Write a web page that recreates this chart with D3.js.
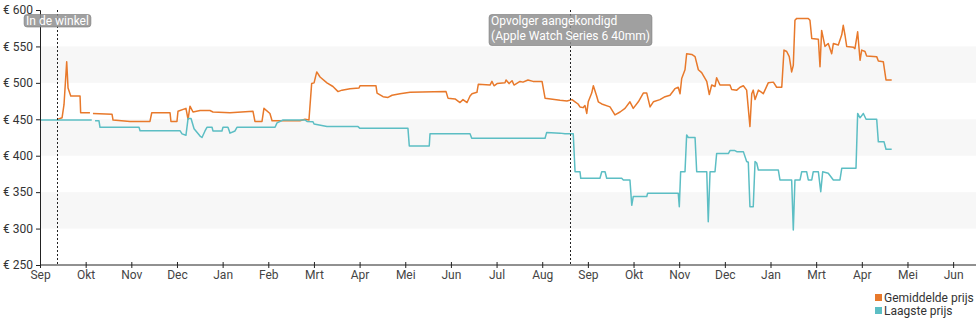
<!DOCTYPE html>
<html>
<head>
<meta charset="utf-8">
<script src="https://cdn.jsdelivr.net/npm/d3@7"></script>
<style>
  html, body { margin: 0; padding: 0; background: #fff; }
  svg { display: block; font-family: Roboto, "Noto Sans", "DejaVu Sans", sans-serif; }
</style>
</head>
<body>
<svg id="chart" width="980" height="325"></svg>
<script>
// Month tick labels, one per average month (365.25 / 12 days) from the start date
const monthLabels = ["Sep","Okt","Nov","Dec","Jan","Feb","Mrt","Apr","Mei","Jun","Jul","Aug",
                     "Sep","Okt","Nov","Dec","Jan","Mrt","Apr","Mei","Jun"];

// Price axis ticks (euro)
const priceTicks = [250, 300, 350, 400, 450, 500, 550, 600];

// Series names and colours
const seriesNames = ["Gemiddelde prijs", "Laagste prijs"];
const seriesColors = ["#e8792b", "#5cbec4"];

// Average price: [days since start, euro]; null marks a gap in the record
const avgPrice = [
  [12,450],[14.7,452],[16,470],[17.8,529],[18.7,493],[20.5,482],[26.7,482],[27.1,459],[33.3,459],
  [34.3,null],
  [35.3,458],[48,457],[48.7,449],[60,447],[73.3,447],[74.5,459],[86.7,459],[87.3,447],[91.3,447],
  [92,461],[97.3,465],[98.7,450],[100,468],[102,460],[106.7,462],[113.3,462],[115.3,460],[126.7,459],
  [142,461],[143.3,447],[148,447],[149.3,465],[153.3,458],[154.7,448],[173.3,448],[176.7,450],[179.3,449],
  [181.1,499],[182.7,500],[184.5,515],[186.7,508],[191.3,500],[195.3,495],[198.7,488],[201.3,490],
  [206.7,492],[212.7,493],[213.3,496],[224,496],[224.7,486],[228.7,481],[232,480],[234.7,483],[240,485],
  [246.7,487],[270.7,488],[272,479],[276.7,478],[280,473],[282,477],[284.7,473],[286.7,482],[288,485],
  [291.3,487],[292.2,498],[300,497],[301.3,502],[302.7,496],[304.7,499],[310,500],[310.7,504],[312.7,499],
  [314.7,503],[316,497],[320,502],[322,501],[325.3,504],[328.7,502],[334.7,502],[336.7,479],[346.7,476],
  [351.3,475],[354.7,477],[356.7,474],[358.7,471],[360,467],[362,466],[363.3,469],[364.5,458],[365.5,474],
  [367.8,486],[368.9,496],[371.1,482],[372.2,474],[374.5,471],[380,467],[383.3,456],[386.7,460],[390,465],
  [393.3,474],[395.5,465],[398.9,474],[402.2,486],[404.5,486],[406.7,467],[408.9,474],[413.3,477],
  [416.7,481],[420,483],[423.3,492],[425.5,494],[426.7,485],[427.8,506],[430,518],[431.1,540],[434.5,539],
  [436.7,536],[438.9,518],[441.1,514],[444.5,502],[446.2,484],[447.8,497],[450,495],[451.1,507],[453.3,497],
  [460,497],[461.1,491],[464.5,490],[466.7,494],[468.9,496],[471.1,490],[473.3,440],[474.5,485],[475.5,490],
  [476.7,477],[478.9,490],[481.1,487],[482.2,485],[483.3,490],[485.5,500],[488.9,501],[491.1,494],
  [494.5,494],[496,545],[497.8,543],[499.5,536],[501.1,515],[502.2,524],[503.3,586],[504.5,588.5],
  [512.2,588.5],[513.3,586],[514.5,561],[518.9,560],[520,522],[521.1,572],[523.3,550],[525.5,554],
  [527.8,540],[528.9,554],[532.2,552],[534.5,566],[535.5,579],[536.7,565],[537.8,550],[542.2,549],
  [543.3,547],[545.1,570],[546.7,531],[547.8,545],[550,543],[551.1,537],[557.8,536],[558.9,530],
  [562.2,529],[564,504],[567.8,504]
];

// Lowest price: [days since start, euro]; null marks a gap in the record
const lowPrice = [
  [0,449],[34.5,449],
  [35.5,null],
  [36.7,448],[39.3,448],[40,439],[66,439],[66.7,434.4],[93.3,434.4],[94.7,430],[97.3,428],[98.7,451],
  [100.7,451],[102.7,437],[106.7,427],[108,425],[110,434],[111.3,439],[114.7,439],[115.3,434],[121.3,434],
  [122,439],[125.3,439],[126.7,431],[130,434],[131.3,439],[156.7,439],[158,445],[162,449],[176.7,449],
  [178,447],[182,446.7],[182.7,443.5],[191.3,440],[212,440],[213.3,437.6],[245.3,437.6],[246.2,413.3],
  [259.5,413.3],[260,430],[286.7,430],[287.8,424],[336.7,424],[337.8,432],[346.7,431],[350,430],
  [355.5,430],[356.7,378],[360,378],[360.5,369],[373.3,369],[374.5,378],[376.7,378],[377.8,369],
  [387.8,369],[388.9,366.7],[393.3,366.7],[394.5,332],[395.5,344],[404.5,344],[405.1,348.4],[425.5,348.4],
  [426.2,330],[427.1,378],[430,378],[431.1,428.5],[432.2,425],[436.7,425],[437.8,378],[444.5,378],
  [445.5,309.5],[446.7,378],[450,378],[451.1,403],[458.9,403],[460,407],[463.3,407],[464.5,405.6],
  [468.9,405.6],[471.1,392],[472.2,391],[473.3,330],[475.5,330],[476.7,392],[477.8,390],[478.9,380.4],
  [492.2,380.4],[493.3,366.7],[501.1,366.7],[502.2,298],[503.3,366.7],[506.7,366.7],[507.8,378],
  [511.1,378],[512.2,366.7],[514.5,366.7],[515.5,378],[518.9,378],[520.5,350.6],[521.8,378],[525.5,376],
  [528.9,366.7],[533.3,366.7],[534.5,382.7],[544,382.7],[545.1,458],[546.7,452],[548.9,458],[550.7,450],
  [557.8,450],[558.9,419],[562.7,419],[564,408.8],[567.8,408.8]
];

// Marked events: day and label lines
const eventDays = [11, 353.3];
const eventLabels = [["In de winkel"], ["Opvolger aangekondigd", "(Apple Watch Series 6 40mm)"]];

const monthLength = 365.25 / 12;

const svg = d3.select("#chart");
const margin = { left: 40, right: 4, top: 10, bottom: 60 };
const W = 980, H = 325;

const x = d3.scaleLinear().domain([0, 624]).range([margin.left, W - margin.right]);
const y = d3.scaleLinear().domain([250, 600]).range([H - margin.bottom, margin.top]);

// Alternating horizontal bands
const bandPairs = [[300, 350], [400, 450], [500, 550]];
svg.append("g").selectAll("rect").data(bandPairs).join("rect")
  .attr("x", x(0)).attr("width", x.range()[1] - x(0))
  .attr("y", d => y(d[1])).attr("height", d => y(d[0]) - y(d[1]))
  .attr("fill", "#f7f7f7");

// Lines
const line = d3.line()
  .defined(d => d[1] !== null)
  .x(d => x(d[0])).y(d => y(d[1]));

[avgPrice, lowPrice].forEach((s, i) => {
  svg.append("path").datum(s)
    .attr("fill", "none")
    .attr("stroke", seriesColors[i])
    .attr("stroke-width", 1.5)
    .attr("stroke-linejoin", "round")
    .attr("d", line);
});

// Axes
const yAxis = d3.axisLeft(y).tickValues(priceTicks).tickSize(4).tickPadding(3)
  .tickFormat(d => "€ " + d);
const yg = svg.append("g").attr("transform", `translate(${margin.left},0)`).call(yAxis);
yg.select(".domain").attr("stroke", "#222");
yg.selectAll(".tick line").attr("stroke", "#222");
yg.selectAll("text").attr("font-size", 12).attr("fill", "#333")
  .attr("font-family", "Roboto, sans-serif");

const tickDays = monthLabels.map((_, i) => i * monthLength);
const xAxis = d3.axisBottom(x).tickValues(tickDays).tickSize(3).tickPadding(2)
  .tickFormat((d, i) => monthLabels[i]);
const xg = svg.append("g").attr("transform", `translate(0,${y(250)})`).call(xAxis);
xg.select(".domain").attr("stroke", "#222").attr("d", `M${x(0)},0H${x.range()[1]}`);
xg.selectAll(".tick line").attr("stroke", "#222").attr("y1", -3);
xg.selectAll("text").attr("font-size", 12).attr("fill", "#444")
  .attr("font-family", "Roboto, sans-serif");

// Event markers
eventDays.forEach((d, i) => {
  const ex = Math.round(x(d)) + 0.5;
  svg.append("line")
    .attr("x1", ex).attr("x2", ex)
    .attr("y1", y(600)).attr("y2", y(250))
    .attr("stroke", "#222").attr("stroke-width", 1)
    .attr("stroke-dasharray", "2,2");

  const g = svg.append("g");
  const lines = eventLabels[i];
  const t = g.append("text")
    .attr("font-size", 12).attr("fill", "#fff")
    .attr("font-family", "Roboto, sans-serif");
  lines.forEach((s, j) => {
    t.append("tspan").attr("x", 0).attr("y", j * 14.5).text(s);
  });
  const bb = t.node().getBBox();
  const padX = 2;
  const bw = bb.width + padX * 2;
  const bh = lines.length === 1 ? 12.5 : 31;
  const bx = ex - bw / 2;
  const by = 14.5;
  g.insert("rect", "text")
    .attr("x", bx).attr("y", by).attr("width", bw).attr("height", bh)
    .attr("rx", 3).attr("ry", 3)
    .attr("fill", "#8f8f8f").attr("fill-opacity", 0.85)
    .attr("stroke", "#7a7a7a").attr("stroke-opacity", 0.6);
  t.attr("transform", `translate(${bx + padX},${by + 10.5})`);
});

// Legend
const lg = svg.append("g").attr("transform", "translate(875,294)");
seriesNames.forEach((n, i) => {
  const row = lg.append("g").attr("transform", `translate(0,${i * 13})`);
  row.append("rect").attr("width", 7).attr("height", 7).attr("fill", seriesColors[i]);
  row.append("text").attr("x", 9).attr("y", 7.5)
    .attr("font-size", 12).attr("fill", "#333")
    .attr("font-family", "Roboto, sans-serif")
    .text(n);
});
</script>
</body>
</html>
